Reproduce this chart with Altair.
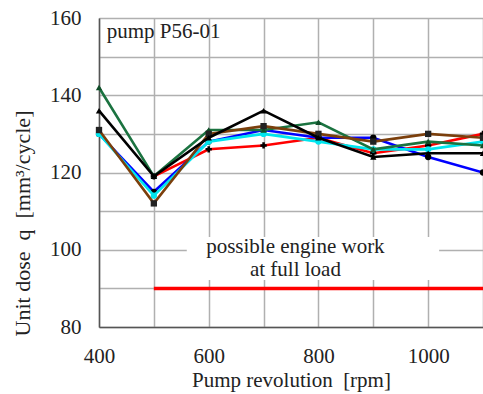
import altair as alt
import pandas as pd

rpm = [400, 500, 600, 700, 800, 900, 1000, 1100]
red = [None, 119, 126, 127, 129, 125, 127, 130]
blue = [130, 115, 128, 131, 129, 129, 124, 120]
cyan = [130, 114, 128, 130, 128, 126, 126, 128]
green = [142, 119, 131, 131, 133, 126, 128, 127]
brown = [131, 112, 130, 132, 130, 128, 130, 129]
black = [136, 119, 129, 136, 129, 124, 125, 125]

series = [
    ("red", red, "#ff0000", "cross", "#000000"),
    ("blue", blue, "#0000ff", "circle", "#000000"),
    ("cyan", cyan, "#00e5ee", "circle", "#00e5ee"),
    ("green", green, "#1b7340", "triangle-up", "#0f4d28"),
    ("brown", brown, "#7b3f0c", "square", "#222222"),
    ("black", black, "#000000", "triangle-up", "#000000"),
]

full_load_x = [500, 1100]
full_load_y = [90, 90]

FONT = "Liberation Serif"
FS = 21
NB = "\u00a0"

xscale = alt.Scale(domain=[400, 1100], nice=False, zero=False)
yscale = alt.Scale(domain=[80, 160], nice=False, zero=False)

xaxis = alt.Axis(
    values=list(range(400, 1101, 100)),
    labelExpr="(datum.value % 200 == 0 && datum.value < 1100) ? datum.label : ''",
    title=f"Pump revolution{NB}{NB}[rpm]",
    grid=True, gridColor="#b0b0b0", gridWidth=1.5,
    ticks=False, domainColor="#555555", domainWidth=1.5,
    labelFont=FONT, labelFontSize=FS, labelColor="#222222", labelPadding=18,
    titleFont=FONT, titleFontSize=FS, titleFontWeight="normal", titleColor="#222222",
    titlePadding=3, labelFlush=False, format="d",
)
yaxis = alt.Axis(
    values=list(range(80, 161, 10)),
    labelExpr="datum.value % 20 == 0 ? datum.label : ''",
    title=f"Unit dose{NB}{NB}q{NB}{NB}[mm³/cycle]",
    grid=True, gridColor="#b0b0b0", gridWidth=1.5,
    ticks=False, domainColor="#555555", domainWidth=1.5,
    labelFont=FONT, labelFontSize=FS, labelColor="#222222", labelPadding=18,
    titleFont=FONT, titleFontSize=22, titleFontWeight="normal", titleColor="#222222",
    titleX=-77, titleY=205, titleBaseline="middle", titleAngle=270,
    labelFlush=False,
)


def X():
    return alt.X("x:Q", scale=xscale, axis=xaxis)


def Y():
    return alt.Y("y:Q", scale=yscale, axis=yaxis)


layers = []

# annotation box
box_df = pd.DataFrame({"x": [560], "x2": [1020], "y": [92.2], "y2": [103.3]})
layers.append(
    alt.Chart(box_df).mark_rect(color="white").encode(
        x=X(), x2="x2:Q", y=Y(), y2="y2:Q",
    )
)

base_df = pd.DataFrame({"x": full_load_x, "y": full_load_y})
layers.append(
    alt.Chart(base_df).mark_line(color="#ff0000", strokeWidth=3.5).encode(x=X(), y=Y())
)

txt_df = pd.DataFrame({
    "x": [758, 758, 414],
    "y": [100.7, 94.8, 156.3],
    "t": ["possible engine work", "at full load", "pump P56-01"],
    "a": ["center", "center", "left"],
})
for i in range(3):
    layers.append(
        alt.Chart(txt_df.iloc[[i]]).mark_text(
            font=FONT, fontSize=FS, color="#222222",
            align=txt_df["a"][i], baseline="middle",
        ).encode(x=X(), y=Y(), text="t:N")
    )

for name, vals, col, shape, mcol in series:
    df = pd.DataFrame({"x": rpm, "y": vals}).dropna()
    layers.append(
        alt.Chart(df).mark_line(color=col, strokeWidth=2.6).encode(x=X(), y=Y())
    )
    layers.append(
        alt.Chart(df).mark_point(shape=shape, filled=True, color=mcol, size=40, opacity=1).encode(
            x=X(), y=Y()
        )
    )

chart = alt.layer(*layers).properties(
    width=384, height=309,
    autosize=alt.AutoSizeParams(type="none"),
    padding={"left": 99, "top": 18, "right": 0, "bottom": 67},
).configure_view(stroke="#777777", strokeWidth=1.5).configure(background="white")

chart.save("out.html", embed_options={"renderer": "svg", "actions": False})
